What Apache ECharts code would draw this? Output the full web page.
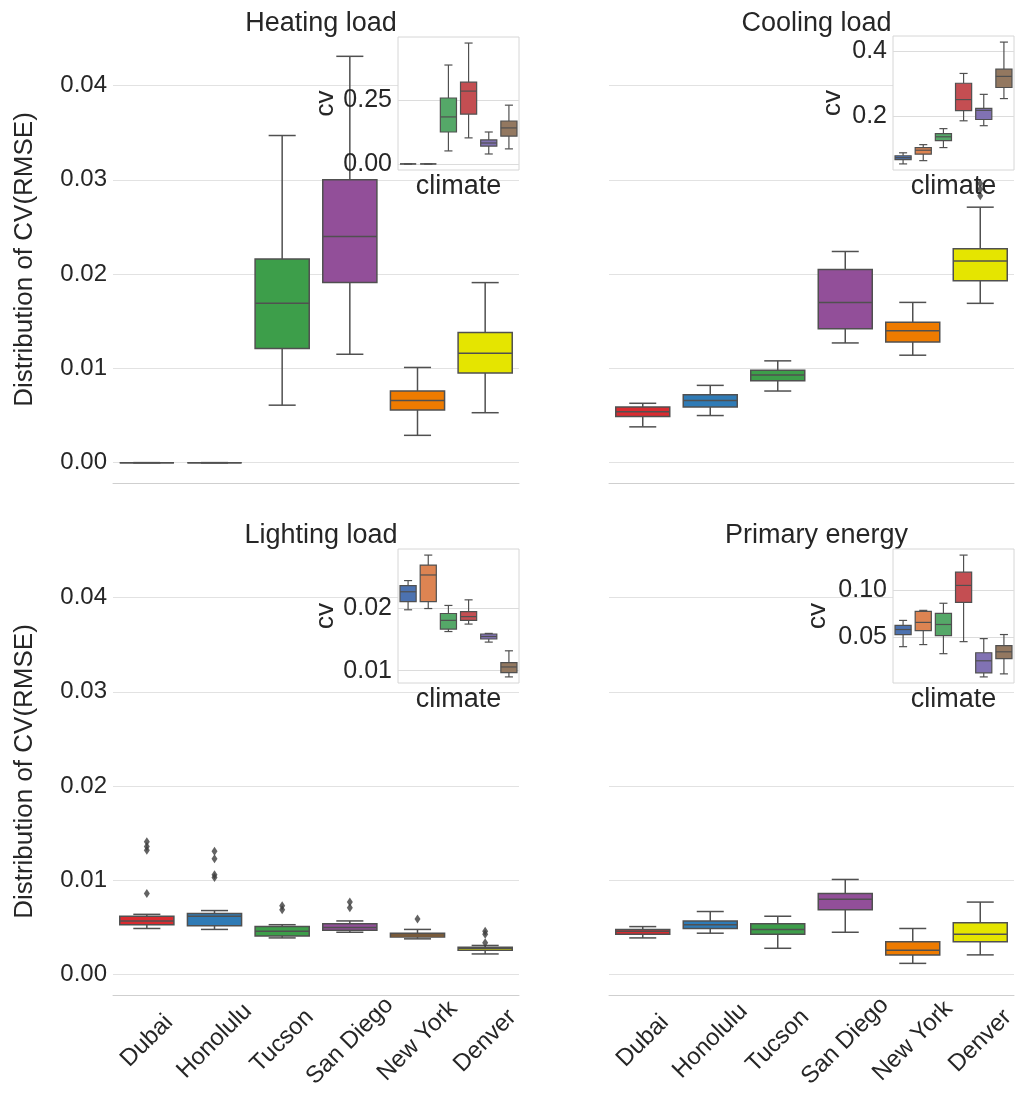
<!DOCTYPE html>
<html><head><meta charset="utf-8">
<script src="https://cdn.jsdelivr.net/npm/echarts@6/dist/echarts.min.js"></script>
<style>html,body{margin:0;padding:0;background:#fff}#c{width:1026px;height:1097px}</style>
</head><body><div id="c"></div>
<script>
const cities = ['Dubai', 'Honolulu', 'Tucson', 'San Diego', 'New York', 'Denver'];
const panelTitles = ['Heating load', 'Cooling load', 'Lighting load', 'Primary energy'];
const yLabel = 'Distribution of CV(RMSE)';
const insetYLabel = 'cv';
const insetXLabel = 'climate';

// each row: [lower whisker, Q1, median, Q3, upper whisker]
const heatingMain = [
  [0, 0, 0, 0, 0],
  [0, 0, 0, 0, 0],
  [0.0061, 0.0121, 0.0169, 0.0216, 0.0347],
  [0.0115, 0.0191, 0.0240, 0.0300, 0.0431],
  [0.0029, 0.0056, 0.0066, 0.0076, 0.0101],
  [0.0053, 0.0095, 0.0116, 0.0138, 0.0191]
];
const coolingMain = [
  [0.0038, 0.0049, 0.0054, 0.0059, 0.0063],
  [0.0050, 0.0059, 0.0066, 0.0072, 0.0082],
  [0.0076, 0.0087, 0.0093, 0.0098, 0.0108],
  [0.0127, 0.0142, 0.0170, 0.0205, 0.0224],
  [0.0114, 0.0128, 0.0140, 0.0149, 0.0170],
  [0.0169, 0.0193, 0.0214, 0.0227, 0.0271]
];
const lightingMain = [
  [0.0049, 0.0053, 0.0057, 0.0062, 0.0064],
  [0.0048, 0.0052, 0.0062, 0.0065, 0.0068],
  [0.0039, 0.0041, 0.0046, 0.0051, 0.0053],
  [0.0045, 0.0047, 0.0050, 0.0054, 0.0057],
  [0.0038, 0.0040, 0.0042, 0.0044, 0.0048],
  [0.0022, 0.0026, 0.0028, 0.0029, 0.0031]
];
const primaryMain = [
  [0.0039, 0.0043, 0.0046, 0.0048, 0.0051],
  [0.0044, 0.0049, 0.0053, 0.0057, 0.0067],
  [0.0028, 0.0043, 0.0048, 0.0054, 0.0062],
  [0.0045, 0.0069, 0.0080, 0.0086, 0.0101],
  [0.0012, 0.0021, 0.0026, 0.0035, 0.0049],
  [0.0021, 0.0035, 0.0043, 0.0055, 0.0077]
];
// outliers: [city index, value]
const coolingOutliers = [[5, 0.0296], [5, 0.0290], [5, 0.0283]];
const lightingOutliers = [
  [0, 0.0141], [0, 0.0136], [0, 0.0132], [0, 0.0086],
  [1, 0.0131], [1, 0.0123], [1, 0.0106], [1, 0.0103],
  [2, 0.0073], [2, 0.0069],
  [3, 0.0077], [3, 0.0071],
  [4, 0.0059],
  [5, 0.0046], [5, 0.0043], [5, 0.0034]
];

const heatingInset = [
  [0, 0, 0, 0, 0],
  [0, 0, 0, 0, 0],
  [0.051, 0.125, 0.184, 0.258, 0.387],
  [0.102, 0.195, 0.285, 0.320, 0.473],
  [0.039, 0.070, 0.082, 0.094, 0.125],
  [0.059, 0.109, 0.141, 0.168, 0.230]
];
const coolingInset = [
  [0.055, 0.068, 0.074, 0.080, 0.089],
  [0.065, 0.085, 0.097, 0.105, 0.114],
  [0.105, 0.126, 0.138, 0.148, 0.163],
  [0.187, 0.218, 0.252, 0.302, 0.332],
  [0.172, 0.191, 0.219, 0.225, 0.268],
  [0.255, 0.289, 0.323, 0.345, 0.428]
];
const lightingInset = [
  [0.0198, 0.0211, 0.0227, 0.0237, 0.0245],
  [0.0200, 0.0211, 0.0254, 0.0270, 0.0286],
  [0.0163, 0.0167, 0.0181, 0.0192, 0.0205],
  [0.0175, 0.0181, 0.0187, 0.0195, 0.0214],
  [0.0146, 0.0151, 0.0155, 0.0159, 0.0160],
  [0.0090, 0.0097, 0.0106, 0.0113, 0.0132]
];
const primaryInset = [
  [0.0404, 0.0532, 0.0585, 0.0628, 0.0681],
  [0.0426, 0.0574, 0.0660, 0.0777, 0.0787],
  [0.0330, 0.0520, 0.0638, 0.0755, 0.0862],
  [0.0457, 0.0872, 0.1050, 0.1190, 0.1370],
  [0.0085, 0.0128, 0.0255, 0.0340, 0.0489],
  [0.0117, 0.0277, 0.0350, 0.0415, 0.0532]
];

const mainTicks = [0, 0.01, 0.02, 0.03, 0.04];
const heatingInsetTicks = [0, 0.25];
const coolingInsetTicks = [0.2, 0.4];
const lightingInsetTicks = [0.01, 0.02];
const primaryInsetTicks = [0.05, 0.10];

const mainColors = ['#d92b30', '#2f7bb6', '#3d9e4a', '#924f99', '#ee7b00', '#e5e500'];
const insetColors = ['#4c72b0', '#dd8452', '#55a868', '#c44e52', '#8172b3', '#937860'];
const EDGE = '#505050';
const TXT = '#262626';
const FONT = "'Liberation Sans', Arial, sans-serif";

function padRange(arrs) {
  let mn = Infinity, mx = -Infinity;
  arrs.forEach(a => a.forEach(r => r.forEach(v => { mn = Math.min(mn, v); mx = Math.max(mx, v); })));
  const r = mx - mn;
  return [mn - 0.05 * r, mx + 0.05 * r];
}
const mainRange = padRange([heatingMain, coolingMain, lightingMain, primaryMain,
  coolingOutliers.map(o => [o[1]]), lightingOutliers.map(o => [o[1]])]);

function rows(stats) { return stats.map((s, i) => [i].concat(s)); }

function boxRender(colors, lw) {
  return function (params, api) {
    const i = api.value(0);
    const lo = api.coord([i, api.value(1)]);
    const q1 = api.coord([i, api.value(2)]);
    const md = api.coord([i, api.value(3)]);
    const q3 = api.coord([i, api.value(4)]);
    const hi = api.coord([i, api.value(5)]);
    const bw = api.size([1, 0])[0] * 0.8;
    const x = lo[0];
    const cap = bw / 4;
    const st = { stroke: EDGE, lineWidth: lw, fill: null };
    return {
      type: 'group', children: [
        { type: 'line', shape: { x1: x, y1: lo[1], x2: x, y2: q1[1] }, style: st },
        { type: 'line', shape: { x1: x, y1: q3[1], x2: x, y2: hi[1] }, style: st },
        { type: 'line', shape: { x1: x - cap, y1: lo[1], x2: x + cap, y2: lo[1] }, style: st },
        { type: 'line', shape: { x1: x - cap, y1: hi[1], x2: x + cap, y2: hi[1] }, style: st },
        { type: 'rect', shape: { x: x - bw / 2, y: q3[1], width: bw, height: q1[1] - q3[1] },
          style: { fill: colors[i], stroke: EDGE, lineWidth: lw } },
        { type: 'line', shape: { x1: x - bw / 2, y1: md[1], x2: x + bw / 2, y2: md[1] }, style: st }
      ]
    };
  };
}

const mainGrids = [
  { left: 113, top: 36, width: 406, height: 447 },
  { left: 609, top: 36, width: 405, height: 447 },
  { left: 113, top: 548, width: 406, height: 447 },
  { left: 609, top: 548, width: 405, height: 447 }
];
const insetGrids = [
  { left: 398, top: 37, width: 121, height: 133 },
  { left: 893, top: 36, width: 121, height: 134 },
  { left: 398, top: 549, width: 121, height: 134 },
  { left: 893, top: 549, width: 121, height: 134 }
];
const mainData = [heatingMain, coolingMain, lightingMain, primaryMain];
const insetData = [heatingInset, coolingInset, lightingInset, primaryInset];
const insetTicks = [heatingInsetTicks, coolingInsetTicks, lightingInsetTicks, primaryInsetTicks];
const insetDecimals = [2, 1, 2, 2];
const insetNameGap = [59, 47, 59, 62];

const grid = [], xAxis = [], yAxis = [], series = [], title = [];
mainGrids.forEach((g, k) => {
  grid.push(Object.assign({ containLabel: false, z: 0 }, g));
  xAxis.push({
    type: 'category', data: cities, gridIndex: k, z: 0,
    axisLine: { show: true, onZero: false, lineStyle: { color: '#cfcfcf', width: 1 } },
    axisTick: { show: false },
    axisLabel: k >= 2 ? { show: true, interval: 0, rotate: 45, align: 'center', verticalAlign: 'middle',
      margin: 46, fontSize: 24, color: TXT, fontFamily: FONT } : { show: false },
    splitLine: { show: false }
  });
  yAxis.push({
    type: 'value', gridIndex: k, min: mainRange[0], max: mainRange[1], z: 0,
    name: (k % 2 === 0) ? yLabel : '', nameLocation: 'middle', nameGap: 75,
    nameTextStyle: { fontSize: 26, color: TXT, fontFamily: FONT },
    axisLine: { show: false },
    axisTick: { show: false, customValues: mainTicks },
    axisLabel: { show: k % 2 === 0, customValues: mainTicks, formatter: v => v.toFixed(2),
      fontSize: 24, color: TXT, fontFamily: FONT, margin: 6 },
    splitLine: { show: true, lineStyle: { color: '#e2e2e2', width: 1 } }
  });
  series.push({
    type: 'custom', xAxisIndex: k, yAxisIndex: k, z: 2,
    renderItem: boxRender(mainColors, 1.5),
    encode: { x: 0, y: [1, 2, 3, 4, 5] },
    data: rows(mainData[k])
  });
  title.push({
    text: panelTitles[k], left: g.left + g.width / 2, top: g.top - 31, textAlign: 'center',
    textStyle: { fontSize: 27, fontWeight: 'normal', color: TXT, fontFamily: FONT }
  });
});
series.push({
  type: 'scatter', xAxisIndex: 1, yAxisIndex: 1, z: 3, symbol: 'diamond', symbolSize: [6, 9],
  itemStyle: { color: '#3c3c3c' }, data: coolingOutliers
});
series.push({
  type: 'scatter', xAxisIndex: 2, yAxisIndex: 2, z: 3, symbol: 'diamond', symbolSize: [6, 9],
  itemStyle: { color: '#3c3c3c' }, data: lightingOutliers
});

insetGrids.forEach((g, k) => {
  const idx = 4 + k;
  const r = padRange([insetData[k]]);
  grid.push(Object.assign({ show: true, backgroundColor: '#ffffff', borderColor: '#d6d6d6', borderWidth: 1, z: 10 }, g));
  xAxis.push({
    type: 'category', data: cities, gridIndex: idx, z: 11,
    name: insetXLabel, nameLocation: 'middle', nameGap: 3,
    nameTextStyle: { fontSize: 27, color: TXT, fontFamily: FONT, verticalAlign: 'top' },
    axisLine: { show: false, onZero: false }, axisTick: { show: false }, axisLabel: { show: false }, splitLine: { show: false }
  });
  yAxis.push({
    type: 'value', gridIndex: idx, min: r[0], max: r[1], z: 11,
    name: insetYLabel, nameLocation: 'middle', nameGap: insetNameGap[k],
    nameTextStyle: { fontSize: 26, color: TXT, fontFamily: FONT },
    axisLine: { show: false },
    axisTick: { show: false, customValues: insetTicks[k] },
    axisLabel: { show: true, customValues: insetTicks[k], formatter: v => v.toFixed(insetDecimals[k]),
      fontSize: 25, color: TXT, fontFamily: FONT, margin: 6 },
    splitLine: { show: true, lineStyle: { color: '#dcdcdc', width: 1 } }
  });
  series.push({
    type: 'custom', xAxisIndex: idx, yAxisIndex: idx, z: 12,
    renderItem: boxRender(insetColors, 1.2),
    encode: { x: 0, y: [1, 2, 3, 4, 5] },
    data: rows(insetData[k])
  });
});

const chart = echarts.init(document.getElementById('c'), null, { renderer: 'canvas' });
chart.setOption({
  animation: false,
  backgroundColor: '#ffffff',
  textStyle: { fontFamily: FONT },
  title, grid, xAxis, yAxis, series
});
</script></body></html>
